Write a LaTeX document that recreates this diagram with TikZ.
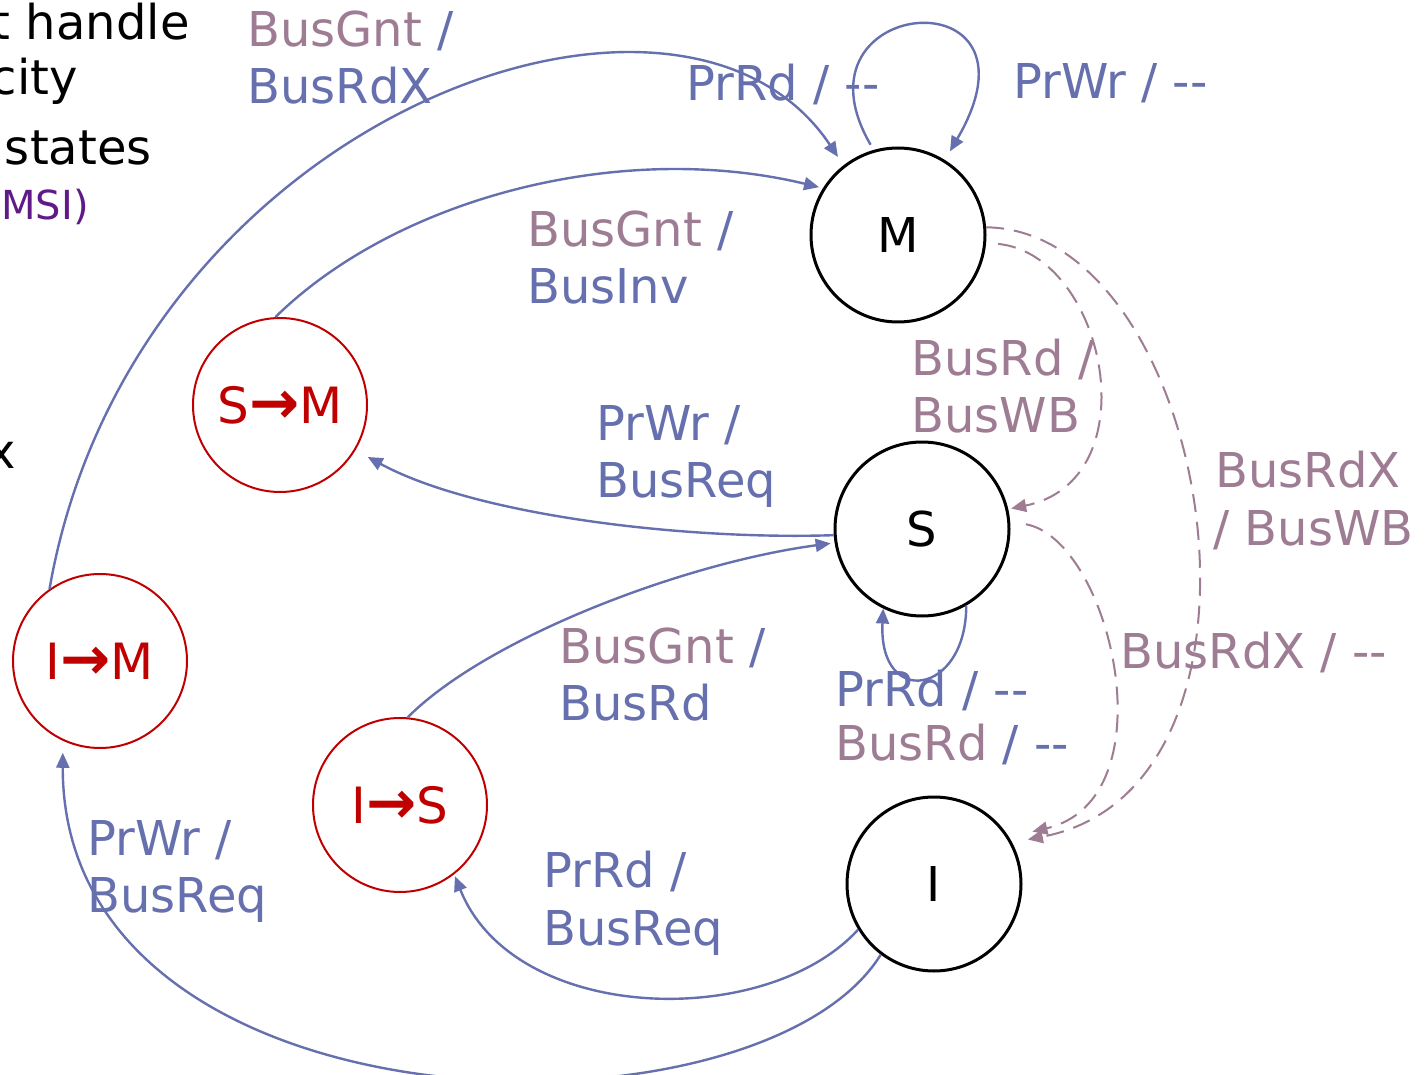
\documentclass[tikz,border=0pt]{standalone}
\usepackage{fontspec}
\setmainfont{DejaVu Sans}
\usetikzlibrary{arrows.meta}
\definecolor{eblue}{RGB}{102,112,174}
\definecolor{emauve}{RGB}{158,124,147}
\definecolor{ered}{RGB}{192,0,0}
\definecolor{epurple}{RGB}{96,26,136}
\newcommand{\dd}{-{}-}
\newcommand{\redarr}{{\fontsize{30}{30}\selectfont\bfseries →}}
\begin{document}
\begin{tikzpicture}[x=0.5pt,y=-0.5pt,
  bigfont/.style={font=\fontsize{24}{28}\selectfont},
  state/.style={circle,draw=black,line width=1.5pt,minimum size=87pt,inner sep=0pt,bigfont},
  tstate/.style={circle,draw=ered,line width=1pt,minimum size=87pt,inner sep=0pt,text=ered,font=\fontsize{25}{28}\selectfont},
  lbl/.style={anchor=base west,inner sep=0pt,bigfont},
  side/.style={anchor=base east,inner sep=0pt,bigfont},
  tr/.style={draw=eblue,line width=1.2pt,-{Triangle[length=7.5pt,width=6.5pt]}},
  snoop/.style={draw=emauve,line width=1pt,dash pattern=on 9pt off 5pt,-{Triangle[length=7.5pt,width=6.5pt]}},
]
\clip (0,0) rectangle (1425,1075);
\fill[white] (0,0) rectangle (1425,1075);

% left slide text (cut off at the edge, as in the reference)
\node[side] (t1) at (190,40) {t handle};
\node[side] (t2) at (78,95) {city};
\node[side] (t3) at (152,165) {states};
\node[side,font=\fontsize{20}{24}\selectfont,text=epurple] (t4) at (89,220) {MSI)};
\node[side] (t5) at (16,468) {x};

% states
\node[state] (M) at (898,235) {M};
\node[state] (S) at (922,529) {S};
\node[state] (I) at (934,884) {I};
\node[tstate] (SM) at (280,405) {S\redarr M};
\node[tstate] (IM) at (100,661) {I\redarr M};
\node[tstate] (IS) at (400,805) {I\redarr S};

% processor / bus grant transitions
\draw[tr,shorten >=5pt] (IM.125) .. controls +(82,-470) and +(-164,-246) .. (M.128);
\draw[tr,shorten >=2pt] (SM.93) .. controls +(120,-118) and +(-204,-49) .. (M.148);
\draw[tr,shorten >=7pt] (S.184) .. controls +(-150,5) and +(120,65) .. (SM.329);
\draw[tr,shorten >=2pt] (IS.85) .. controls +(80,-80) and +(-150,20) .. (S.189);
\draw[tr,shorten >=1pt] (I.211) .. controls +(-92,101) and +(60,150) .. (IS.308);
\draw[tr,shorten >=6pt] (I.233) .. controls +(-122,197) and +(-1,400) .. (IM.245);
\draw[tr,shorten <=3pt,shorten >=5pt] (M.106) .. controls +(-90,-155) and +(110,-188) .. (M.58);
\draw[tr] (S.300) .. controls +(0,90) and +(-5,100) .. (S.244);

% snooped bus transitions
\draw[snoop,shorten <=6pt,shorten >=1.5pt] (M.355) .. controls +(120,12) and +(143,-29) .. (S.13);
\draw[snoop,shorten >=8pt] (M.5) .. controls +(225,3) and +(290,-55) .. (I.28);
\draw[snoop,shorten <=8pt,shorten >=12pt] (S.5) .. controls +(101,19) and +(162,-38) .. (I.32);

% labels
\node[lbl,text=eblue] (l1a) at (247,47) {\textcolor{emauve}{BusGnt} /};
\node[lbl,text=eblue] (l1b) at (247,104) {BusRdX};
\node[lbl,text=eblue] (l2) at (686,101) {PrRd / \dd};
\node[lbl,text=eblue] (l3) at (1013,99) {PrWr / \dd};
\node[lbl,text=eblue] (l4a) at (527,247) {\textcolor{emauve}{BusGnt} /};
\node[lbl,text=eblue] (l4b) at (527,304) {BusInv};
\node[lbl,text=emauve] (l5a) at (911,375) {BusRd /};
\node[lbl,text=emauve] (l5b) at (911,432) {BusWB};
\node[lbl,text=eblue] (l6a) at (596,440) {PrWr /};
\node[lbl,text=eblue] (l6b) at (596,497) {BusReq};
\node[lbl,text=emauve] (l7a) at (1215,487) {BusRdX};
\node[lbl,text=emauve] (l7b) at (1213,545) {/ BusWB};
\node[lbl,text=eblue] (l8a) at (559,663) {\textcolor{emauve}{BusGnt} /};
\node[lbl,text=eblue] (l8b) at (559,720) {BusRd};
\node[lbl,text=eblue] (l9a) at (835,706) {PrRd / \dd};
\node[lbl,text=eblue] (l9b) at (835,760) {\textcolor{emauve}{BusRd} / \dd};
\node[lbl,text=emauve] (l10) at (1120,668) {BusRdX / \dd};
\node[lbl,text=eblue] (l11a) at (87,855) {PrWr /};
\node[lbl,text=eblue] (l11b) at (87,912) {BusReq};
\node[lbl,text=eblue] (l12a) at (543,887) {PrRd /};
\node[lbl,text=eblue] (l12b) at (543,945) {BusReq};
\end{tikzpicture}
\end{document}
